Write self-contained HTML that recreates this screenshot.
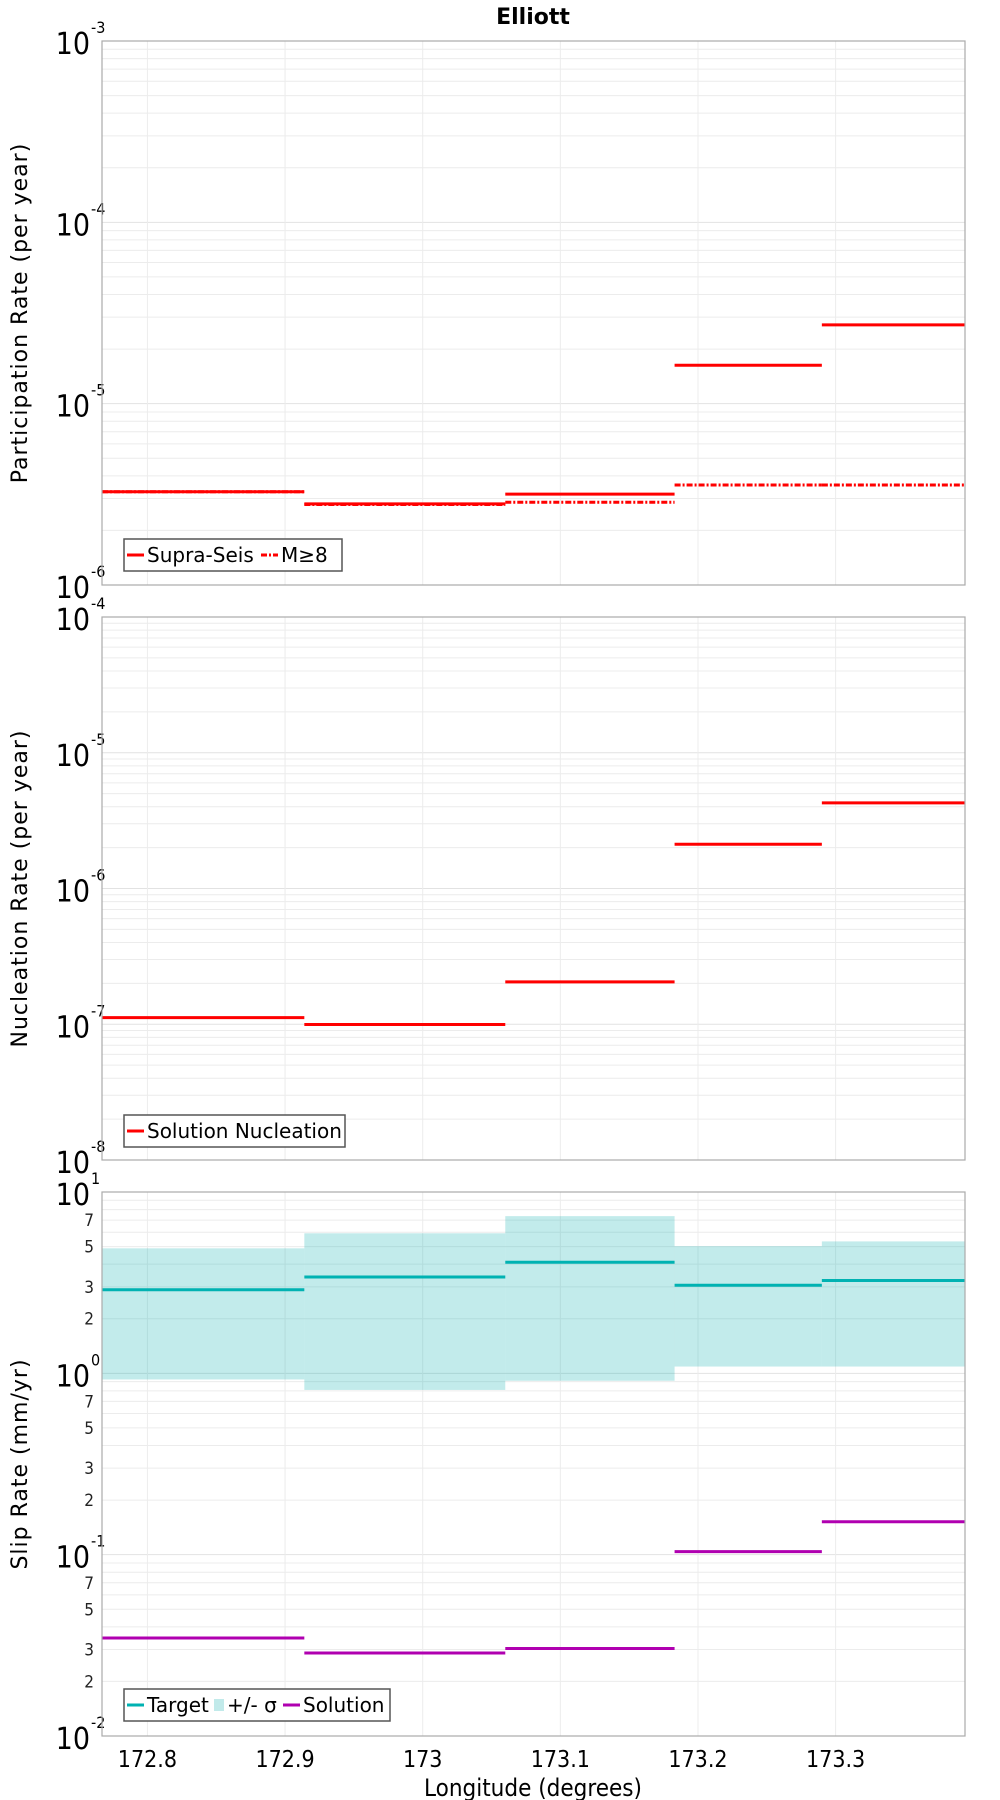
<!DOCTYPE html>
<html><head><meta charset="utf-8">
<style>
html,body{margin:0;padding:0;background:#fff;}
svg{display:block;font-family:"DejaVu Sans","Liberation Sans",sans-serif;}
.cond{font-family:"DejaVu Sans Condensed","DejaVu Sans","Liberation Sans",sans-serif;}
</style></head>
<body>
<svg id="chart" width="1000" height="1800" viewBox="0 0 1000 1800" xmlns="http://www.w3.org/2000/svg">
<text x="533" y="24" text-anchor="middle" font-size="22" font-weight="bold">Elliott</text>
</svg>
<script>
// data
const segEdges = [172.767, 172.914, 173.060, 173.183, 173.290, 173.394];
const xTicks = [172.8, 172.9, 173.0, 173.1, 173.2, 173.3];
const xTickLabels = ["172.8", "172.9", "173", "173.1", "173.2", "173.3"];
const partSupra = [3.27e-6, 2.80e-6, 3.17e-6, 1.63e-5, 2.72e-5];
const partM8 = [3.27e-6, 2.78e-6, 2.86e-6, 3.56e-6, 3.56e-6];
const nuclSolution = [1.12e-7, 9.96e-8, 2.05e-7, 2.12e-6, 4.27e-6];
const slipTarget = [2.89, 3.40, 4.10, 3.06, 3.25];
const slipUpper = [4.89, 5.92, 7.36, 5.03, 5.34];
const slipLower = [0.925, 0.81, 0.91, 1.09, 1.09];
const slipSolution = [0.0347, 0.0287, 0.0304, 0.104, 0.152];

const NS = "http://www.w3.org/2000/svg";
const svg = document.getElementById("chart");
const L = 102, R = 965;
const xMin = 172.767, xMax = 173.394;
function xs(v){ return L + (v - xMin) / (xMax - xMin) * (R - L); }
function mk(tag, attrs, parent){
  const e = document.createElementNS(NS, tag);
  for (const k in attrs) e.setAttribute(k, attrs[k]);
  (parent || svg).appendChild(e);
  return e;
}

function panel(cfg){
  const g = mk("g", {});
  
  
  const T = cfg.top, B = cfg.bottom;
  const ys = v => T + (cfg.eMax - Math.log10(v)) / (cfg.eMax - cfg.eMin) * (B - T);
  for (let e = cfg.eMin; e < cfg.eMax; e++) {
    for (let m = 2; m <= 9; m++) {
      const y = ys(m * Math.pow(10, e));
      const ln = mk("line", {x1:L, x2:R, y1:y, y2:y, stroke:"#ececec", "stroke-width":1}, g);
      
      
      if (cfg.minorLabels && [2,3,5,7].includes(m)) {
        const t = mk("text", {x:L-8, y:y+6, "text-anchor":"end", "font-size":17, fill:"#222", class:"cond"}, g);
        t.textContent = m;
        
        
      }
    }
  }
  for (let e = cfg.eMin; e <= cfg.eMax; e++) {
    const y = ys(Math.pow(10, e));
    const ln = mk("line", {x1:L, x2:R, y1:y, y2:y, stroke:"#e2e2e2", "stroke-width":1}, g);
    
    
    const t = mk("text", {x:L-12, y:y+13, "text-anchor":"end", "font-size":30, fill:"#000", class:"cond"}, g);
    t.textContent = "10";
    
    
    const s = mk("text", {x:L-11, y:y-8, "text-anchor":"start", "font-size":16, fill:"#000", class:"cond"}, g);
    s.textContent = String(e);
    
    
  }
  xTicks.forEach(v => {
    const ln = mk("line", {x1:xs(v), x2:xs(v), y1:T, y2:B, stroke:"#ececec", "stroke-width":1}, g);
    
    
  });
  cfg.draw(g, ys);
  const fr = mk("rect", {x:L, y:T, width:R-L, height:B-T, fill:"none", stroke:"#aaa", "stroke-width":1.2}, g);
  
  
  const cy = (T + B) / 2;
  const yt = mk("text", {x:0, y:0, transform:`translate(27,${cy}) rotate(-90)`, "text-anchor":"middle", "font-size":22, "letter-spacing":"1"}, g);
  yt.textContent = cfg.ytitle;
  
  
  const lg = mk("g", {}, g);
  
  
  const lb = mk("rect", {x:124, y:cfg.legY, width:cfg.legW, height:32, fill:"#fff", stroke:"#555", "stroke-width":1.5}, lg);
  
  
  let x = 127;
  cfg.legend.forEach(it => {
    const my = cfg.legY + 16;
    let sw;
    if (it.type === "band") {
      sw = mk("rect", {x:x+1, y:my-6, width:10, height:12, fill:"#c1eaea"}, lg);
      x += 14;
    } else {
      sw = mk("line", {x1:x, x2:x+17, y1:my, y2:my, stroke:it.color, "stroke-width":3, "stroke-dasharray":it.dash||"none"}, lg);
      x += 20;
    }
    
    
    const t = mk("text", {x:x, y:my+7, "font-size":20}, lg);
    t.textContent = it.label;
    
    
    x += it.w;
  });
}

function steps(g, ys, vals, color, dash, name){
  vals.forEach((v, i) => {
    const ln = mk("line", {x1:xs(segEdges[i]), x2:xs(segEdges[i+1]), y1:ys(v), y2:ys(v), stroke:color, "stroke-width":3, "stroke-dasharray":dash||"none"}, g);
    
    
  });
}

panel({name:"participation-panel", top:41, bottom:585, eMin:-6, eMax:-3, ytitle:"Participation Rate (per year)", legY:539, legW:218,
  legend:[{label:"Supra-Seis", color:"#f00", w:114},{label:"M≥8", color:"#f00", dash:"6 2 2 2", w:50}],
  draw:(g, ys)=>{ steps(g, ys, partSupra, "#f00", null, "supra-seis-step"); steps(g, ys, partM8, "#f00", "6 2 2 2", "m8-step"); }});

panel({name:"nucleation-panel", top:617, bottom:1160, eMin:-8, eMax:-4, ytitle:"Nucleation Rate (per year)", legY:1115, legW:221,
  legend:[{label:"Solution Nucleation", color:"#f00", w:200}],
  draw:(g, ys)=>{ steps(g, ys, nuclSolution, "#f00", null, "nucleation-step"); }});

panel({name:"slip-rate-panel", top:1192, bottom:1736, eMin:-2, eMax:1, ytitle:"Slip Rate (mm/yr)", legY:1689, legW:266, minorLabels:true,
  legend:[{label:"Target", color:"#00b2b2", w:66},{label:"+/- σ", type:"band", w:56},{label:"Solution", color:"#b000b0", w:90}],
  draw:(g, ys)=>{
    slipUpper.forEach((u, i) => {
      const r = mk("rect", {x:xs(segEdges[i]), y:ys(u), width:xs(segEdges[i+1])-xs(segEdges[i]), height:ys(slipLower[i])-ys(u), fill:"#00aaaa", "fill-opacity":0.24}, g);
      
      
    });
    steps(g, ys, slipTarget, "#00b2b2", null, "target-step");
    steps(g, ys, slipSolution, "#b000b0", null, "solution-step");
  }});

xTicks.forEach((v, i) => {
  const t = mk("text", {x:xs(v), y:1767, "text-anchor":"middle", "font-size":23, class:"cond"});
  t.textContent = xTickLabels[i];
  
  
});
const xt = mk("text", {x:533, y:1796, "text-anchor":"middle", "font-size":24, class:"cond"});
xt.textContent = "Longitude (degrees)";


</script>
</body></html>
